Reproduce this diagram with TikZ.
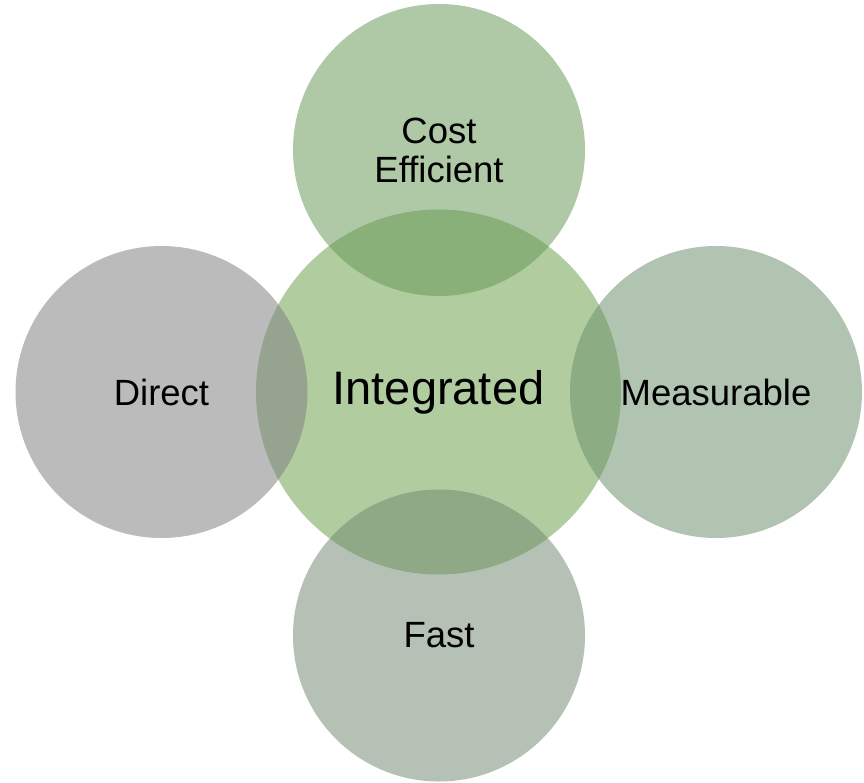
\documentclass[tikz,border=0pt]{standalone}
\usepackage{fontspec}
\setmainfont{Liberation Sans}
\definecolor{hubfill}{RGB}{177,205,160}
\definecolor{costfill}{RGB}{104,151,87}
\definecolor{directfill}{RGB}{127,127,127}
\definecolor{measfill}{RGB}{108,144,108}
\definecolor{fastfill}{RGB}{113,138,113}
\begin{document}
\begin{tikzpicture}[x=1pt,y=-1pt,
  hub/.style={circle,draw=none,inner sep=0pt,minimum size=365pt,fill=hubfill,
    font=\fontsize{47}{52}\selectfont},
  petal/.style={circle,draw=none,inner sep=0pt,minimum size=292pt,fill opacity=0.53,
    text opacity=1,align=center,font=\fontsize{36.5}{39}\selectfont}]
\useasboundingbox (0,0) rectangle (864,783);
% central circle
\node[hub] (hub) at (438.5,392) {Integrated};
% four surrounding translucent circles
\node[petal,fill=costfill] (cost) at (439,150) {Cost\\Efficient};
\node[petal,fill=directfill] (direct) at (161.5,392) {Direct};
\node[petal,fill=measfill] (meas) at (716,392) {Measurable};
\node[petal,fill=fastfill] (fast) at (439,635.5) {Fast};
\end{tikzpicture}
\end{document}
